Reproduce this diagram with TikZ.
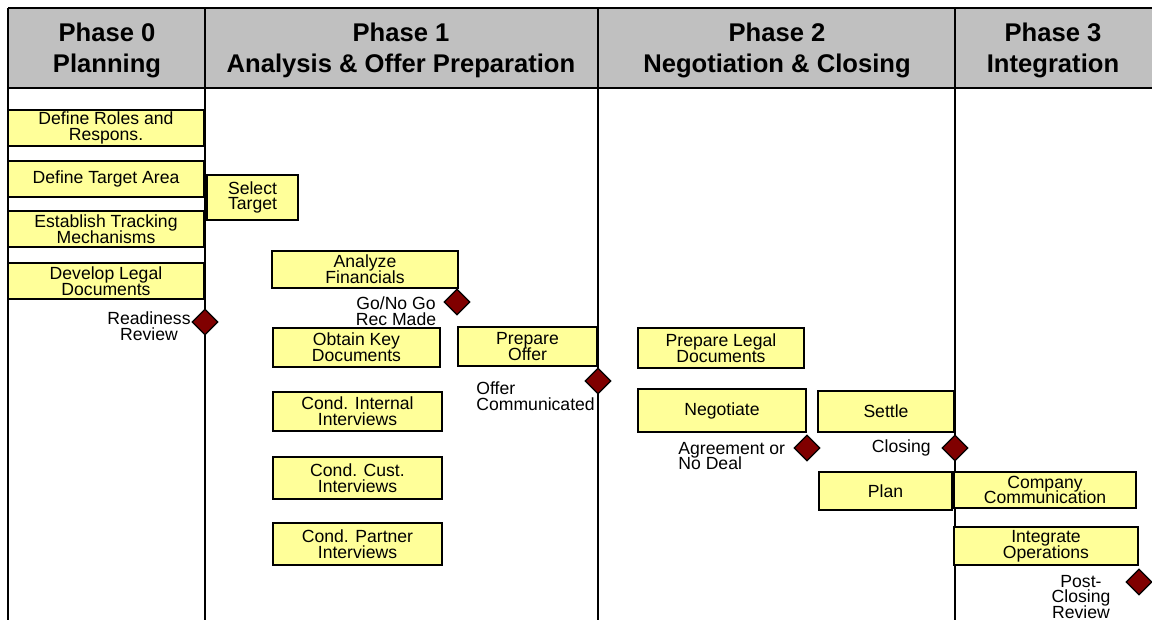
\documentclass[tikz,border=0pt]{standalone}
\usepackage{fontspec}
\setmainfont{Liberation Sans}
\usetikzlibrary{shapes.geometric,positioning}
\definecolor{taskyellow}{HTML}{FFFF99}
\definecolor{headgray}{HTML}{C0C0C0}
\definecolor{milered}{HTML}{800000}
\newcommand{\tightlines}{\lineskiplimit=-10pt\relax}

\begin{document}
\begin{tikzpicture}[
    x=0.5pt, y=-0.5pt,
    task/.style={rectangle, draw=black, line width=0.8pt, fill=taskyellow, align=center, inner sep=0pt, font=\fontsize{8.8}{7.8}\selectfont\tightlines},
    mile/.style={diamond, draw=black, line width=0.6pt, fill=milered, minimum width=13pt, minimum height=13pt, inner sep=0pt},
    milelabel/.style={inner sep=0pt, font=\fontsize{8.8}{7.9}\selectfont\tightlines},
    phase/.style={align=center, inner sep=0pt, font=\fontsize{12.8}{15.5}\selectfont\bfseries},
    divider/.style={line width=1pt, draw=black}
]
\useasboundingbox (0,0) rectangle (1152,620);

% Header row
\fill[headgray] (8,8) rectangle (1152,88);
\draw[divider] (8,8) -- (1152,8);
\draw[divider] (8,88) -- (1152,88);
\node[phase] (h0) at (107,50) {Phase 0\\Planning};
\node[phase] (h1) at (401,50) {Phase 1\\Analysis \& Offer Preparation};
\node[phase] (h2) at (777,50) {Phase 2\\Negotiation \& Closing};
\node[phase] (h3) at (1053,50) {Phase 3\\Integration};

% Column dividers
\foreach \xc in {8,205,598,955}
    \draw[divider] (\xc,8) -- (\xc,620);

% Phase 0: Planning
\node[task, minimum width=98pt, minimum height=18pt] (roles) at (106,128) {Define Roles and\\Respons.};
\node[task, minimum width=98pt, minimum height=18pt] (area) at (106,179) {Define Target Area};
\node[task, minimum width=98pt, minimum height=18pt] (track) at (106,229) {Establish Tracking\\Mechanisms};
\node[task, minimum width=98pt, minimum height=18pt] (legal0) at (106,281) {Develop Legal\\Documents};
\node[mile] (ready) at (205,322) {};
\node[milelabel, align=center] (readyl) at (149,326) {Readiness\\Review};

% Phase 1: Analysis & Offer Preparation
\node[task, minimum width=45.5pt, minimum height=22.5pt] (select) at (252.5,197.5) {Select\\Target};
\node[task, minimum width=93pt, minimum height=18.5pt] (fin) at (365,269.5) {Analyze\\Financials};
\node[mile] (gonogo) at (457,302) {};
\node[milelabel, align=center] (gonogol) at (396,311) {Go/No Go\\Rec Made};
\node[task, minimum width=83.5pt, minimum height=19.5pt] (keydocs) at (356.5,347.5) {Obtain Key\\Documents};
\node[task, minimum width=69.5pt, minimum height=19.5pt] (offer) at (527.5,346.5) {Prepare\\Offer};
\node[mile] (offcomm) at (598,381) {};
\node[milelabel, anchor=west, align=left] (offcomml) at (476,396) {Offer\\Communicated};
\node[task, minimum width=84.5pt, minimum height=19.5pt] (intv) at (357.5,411.5) {Cond. Internal\\Interviews};
\node[task, minimum width=84.5pt, minimum height=21pt] (cust) at (357.5,478) {Cond. Cust.\\Interviews};
\node[task, minimum width=84.5pt, minimum height=21pt] (partner) at (357.5,544) {Cond. Partner\\Interviews};

% Phase 2: Negotiation & Closing
\node[task, minimum width=83pt, minimum height=20pt] (legal2) at (721,348) {Prepare Legal\\Documents};
\node[task, minimum width=84pt, minimum height=21.5pt] (negot) at (722,410.5) {Negotiate};
\node[task, minimum width=68pt, minimum height=20.5pt] (settle) at (886,411.5) {Settle};
\node[mile] (agree) at (807,448) {};
\node[milelabel, anchor=west, align=left] (agreel) at (678,456) {Agreement or\\No Deal};
\node[mile] (closing) at (955,448) {};
\node[milelabel, anchor=east] (closingl) at (931,448) {Closing};
\node[task, minimum width=66.5pt, minimum height=19pt] (plan) at (885.5,491) {Plan};

% Phase 3: Integration
\node[task, minimum width=91pt, minimum height=18pt] (comm) at (1045,490) {Company\\Communication};
\node[task, minimum width=92pt, minimum height=19pt] (integ) at (1046,546) {Integrate\\Operations};
\node[mile] (post) at (1139,582) {};
\node[milelabel, align=center] (postl) at (1081,597) {Post-\\Closing\\Review};

\end{tikzpicture}
\end{document}
